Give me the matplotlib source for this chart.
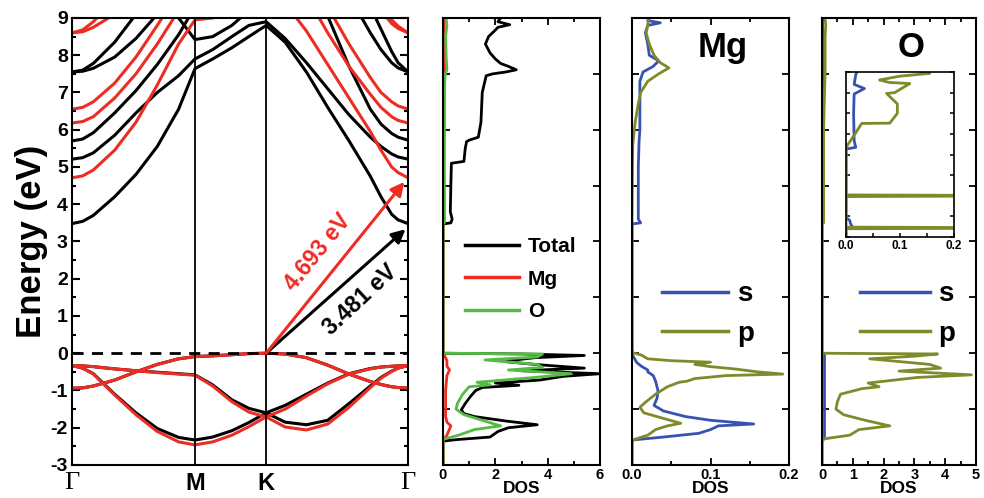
import numpy as np
import matplotlib
matplotlib.use('Agg')
import matplotlib.pyplot as plt
from matplotlib.lines import Line2D

plt.rcParams['font.family'] = ['Liberation Sans', 'DejaVu Sans']
plt.rcParams['font.weight'] = 'bold'
plt.rcParams['axes.linewidth'] = 1.5

RED = '#ee2c24'
GREEN = '#55bb44'
BLUE = '#3653b0'
OLIVE = '#7f8a2b'

# ---------------- band structure (Gamma - M - K - Gamma) ----------------
K_M, K_K, K_G = 0.577, 0.911, 1.577
KPTS = [0, 0.05, 0.1, 0.2, 0.3, 0.4, 0.5, 0.577, 0.66, 0.75, 0.83, 0.911,
        1.0, 1.1, 1.2, 1.3, 1.4, 1.45, 1.5, 1.53, 1.577]

# black bands (gap 3.481 eV)
vb_a = [-0.94, -0.93, -0.88, -0.72, -0.50, -0.30, -0.15, -0.09, -0.07, -0.04, -0.01, 0.0,
        -0.02, -0.12, -0.32, -0.56, -0.76, -0.84, -0.90, -0.92, -0.94]
vb_b = [-0.33, -0.34, -0.36, -0.42, -0.47, -0.51, -0.55, -0.58, -0.85, -1.25, -1.48, -1.60,
        -1.40, -1.10, -0.80, -0.55, -0.41, -0.37, -0.35, -0.34, -0.33]
vb_c = [-0.33, -0.40, -0.55, -1.10, -1.60, -2.02, -2.26, -2.33, -2.25, -2.08, -1.86, -1.60,
        -1.85, -1.92, -1.80, -1.35, -0.88, -0.65, -0.48, -0.40, -0.33]
cb_1 = [3.48, 3.54, 3.7, 4.2, 4.8, 5.55, 6.55, 7.64, 7.9, 8.2, 8.5, 8.8,
        8.35, 7.55, 6.6, 5.7, 4.75, 4.2, 3.73, 3.58, 3.48]
cb_2 = [5.21, 5.25, 5.38, 5.85, 6.45, 7.0, 7.45, 7.9, 8.15, 8.5, 8.8, 8.9,
        8.45, 7.8, 7.1, 6.4, 5.8, 5.55, 5.35, 5.27, 5.21]
cb_3 = [5.70, 5.75, 5.92, 6.45, 7.05, 7.75, 8.55, 9.3, 9.6, 10, 10, 10,
        10, 10, 9.05, 7.7, 6.55, 6.15, 5.9, 5.8, 5.72]
cb_4 = [7.55, 7.6, 7.78, 8.35, 9.1, 10, 10, 10, 10, 10, 10, 10,
        10, 10, 10, 9.6, 8.6, 8.15, 7.8, 7.66, 7.55]
cb_5 = [7.55, 7.57, 7.65, 7.95, 8.45, 9.1, 10, 10, 10, 10, 10, 10,
        10, 10, 10, 10, 9.3, 8.7, 8.1, 7.8, 7.55]
cb_6 = [10, 10, 10, 10, 10, 10, 9.0, 8.42, 8.5, 8.8, 9.2, 9.6,
        10, 10, 10, 10, 10, 10, 10, 10, 10]

# red bands (gap 4.693 eV)
vr_a = [-0.94, -0.93, -0.88, -0.72, -0.50, -0.30, -0.15, -0.09, -0.07, -0.04, -0.01, 0.0,
        -0.02, -0.12, -0.32, -0.56, -0.76, -0.84, -0.90, -0.92, -0.94]
vr_b = [-0.33, -0.34, -0.36, -0.42, -0.47, -0.52, -0.56, -0.59, -0.88, -1.30, -1.58, -1.71,
        -1.50, -1.15, -0.82, -0.56, -0.42, -0.37, -0.35, -0.34, -0.33]
vr_c = [-0.33, -0.40, -0.56, -1.12, -1.65, -2.10, -2.38, -2.46, -2.38, -2.20, -1.97, -1.71,
        -1.98, -2.06, -1.90, -1.45, -0.92, -0.67, -0.49, -0.40, -0.33]
cr_1 = [4.71, 4.76, 4.92, 5.45, 6.2, 7.2, 8.3, 8.95, 9.0, 9.2, 9.6, 10,
        9.4, 8.65, 7.75, 6.85, 5.95, 5.45, 5.0, 4.85, 4.71]
cr_2 = [6.18, 6.22, 6.35, 6.85, 7.5, 8.3, 9.2, 10, 10, 10, 10, 10,
        10, 9.6, 8.6, 7.7, 6.95, 6.6, 6.35, 6.25, 6.18]
cr_3 = [6.55, 6.6, 6.75, 7.25, 7.95, 8.8, 9.7, 10, 10, 10, 10, 10,
        10, 10, 9.3, 8.3, 7.4, 7.0, 6.75, 6.64, 6.55]
cr_4 = [8.6, 8.68, 8.9, 9.5, 10, 10, 10, 10, 10, 10, 10, 10,
        10, 10, 10, 10, 9.6, 9.2, 8.85, 8.72, 8.6]
cr_5 = [8.6, 8.63, 8.75, 9.1, 9.8, 10, 10, 10, 10, 10, 10, 10,
        10, 10, 10, 10, 10, 9.35, 8.95, 8.78, 8.6]

black_bands = [vb_a, vb_b, vb_c, cb_1, cb_2, cb_3, cb_4, cb_5, cb_6]
red_bands = [vr_a, vr_b, vr_c, cr_1, cr_2, cr_3, cr_4, cr_5]

# ---------------- DOS: total / Mg / O ----------------
TOT_E = [-3.0, -2.36, -2.32, -2.25, -2.1, -2.0, -1.92, -1.82, -1.7, -1.62, -1.52, -1.35,
         -1.16, -1.0, -0.92, -0.86, -0.8, -0.72, -0.62, -0.55, -0.47, -0.4, -0.3, -0.22,
         -0.12, -0.06, -0.02, 0.0, 3.47, 3.5, 3.6, 3.8, 4.5, 5.1, 5.15, 5.5, 5.68, 5.72,
         5.8, 6.2, 7.0, 7.45, 7.5, 7.55, 7.61, 7.7, 7.78, 7.9, 8.06, 8.3, 8.5, 8.64,
         8.75, 8.82, 8.9, 9.0]
TOT_D = [0, 0, 0.5, 1.8, 2.1, 2.5, 3.6, 2.4, 1.2, 0.8, 0.7, 0.85,
         1.05, 1.25, 1.5, 2.9, 2.0, 3.7, 4.6, 6.0, 3.0, 5.4, 3.5, 2.3,
         3.5, 5.4, 3.0, 0, 0, 0.3, 0.35, 0.28, 0.3, 0.32, 0.8, 0.85, 0.9, 1.0,
         1.35, 1.45, 1.5, 1.65, 1.9, 2.4, 2.8, 2.5, 2.2, 2.0, 1.8, 1.62, 1.74, 1.95,
         2.1, 2.55, 2.1, 2.2]
MG_E = [-3, -2.33, -2.3, -2.2, -1.95, -1.85, -1.7, -1.0, -0.6, -0.45, -0.35, -0.2, -0.05,
        0.0, 3.47, 3.5, 5.0, 7.0, 7.6, 8.0, 9.0]
MG_D = [0, 0, 0.05, 0.15, 0.3, 0.15, 0.1, 0.1, 0.15, 0.25, 0.15, 0.15, 0.05,
        0, 0, 0.05, 0.04, 0.05, 0.07, 0.05, 0.05]
O_E = [-3, -2.33, -2.3, -2.2, -2.05, -1.95, -1.8, -1.65, -1.5, -1.35, -1.1, -0.9, -0.85,
       -0.78, -0.65, -0.55, -0.45, -0.38, -0.3, -0.18, -0.1, -0.02, 0.0, 3.47, 3.5, 5.0,
       7.0, 7.5, 7.6, 8.0, 8.5, 8.8, 9.0]
O_D = [0, 0, 0.05, 0.6, 1.2, 2.2, 1.5, 0.8, 0.5, 0.55, 0.75, 1.0, 1.8,
       1.3, 3.5, 4.9, 2.5, 3.8, 3.6, 1.6, 3.6, 3.8, 0, 0, 0.04, 0.04,
       0.05, 0.08, 0.15, 0.12, 0.1, 0.15, 0.12]

# ---------------- Mg s / p ----------------
MGS_E = [-3, -2.33, -2.25, -2.15, -2.05, -1.95, -1.9, -1.8, -1.7, -1.55, -1.4, -1.2, -1.0,
         -0.75, -0.6, -0.5, -0.45, -0.35, -0.25, -0.1, -0.02, 3.47, 3.5, 3.6, 5.0, 5.7,
         6.0, 7.3, 7.55, 7.7, 7.85, 8.0, 8.3, 8.6, 8.8, 8.87, 8.93, 9.0]
MGS_D = [0, 0, 0.04, 0.085, 0.1, 0.11, 0.155, 0.1, 0.068, 0.04, 0.028, 0.032, 0.033,
         0.03, 0.027, 0.02, 0.02, 0.012, 0.006, 0.002, 0, 0, 0.011, 0.008, 0.008, 0.009,
         0.01, 0.01, 0.014, 0.027, 0.034, 0.022, 0.02, 0.017, 0.02, 0.036, 0.02, 0.022]
MGP_E = [-3, -2.35, -2.3, -2.2, -2.05, -1.95, -1.88, -1.75, -1.6, -1.45, -1.3, -1.1, -0.9,
         -0.78, -0.75, -0.68, -0.6, -0.56, -0.5, -0.42, -0.36, -0.3, -0.24, -0.2, -0.15,
         -0.05, 0.02, 3.5, 5.0, 5.6, 6.2, 6.7, 7.0, 7.3, 7.5, 7.66, 7.8, 8.0, 8.3, 8.6,
         8.8, 9.0]
MGP_D = [0, 0, 0.005, 0.02, 0.03, 0.045, 0.062, 0.04, 0.015, 0.01, 0.018, 0.03, 0.045,
         0.06, 0.07, 0.08, 0.12, 0.192, 0.16, 0.13, 0.1, 0.08, 0.1, 0.05, 0.02,
         0.012, 0, 0, 0.0005, 0.001, 0.004, 0.008, 0.011, 0.02, 0.034, 0.047, 0.036, 0.028,
         0.022, 0.018, 0.02, 0.021]

# ---------------- O s / p ----------------
OS_E = [-3, -2.33, -2.3, -1.5, -0.5, -0.02, 0.0, 3.47, 3.5, 9.0]
OS_D = [0, 0, 0.08, 0.08, 0.08, 0.08, 0, 0, 0.02, 0.02]
OP_E = [-3, -2.33, -2.3, -2.2, -2.05, -1.95, -1.8, -1.65, -1.5, -1.3, -1.1, -0.95, -0.9,
        -0.8, -0.65, -0.58, -0.48, -0.4, -0.3, -0.15, -0.08, -0.02, 0.0, 3.47, 3.5,
        6.0, 7.0, 7.5, 8.0, 8.5, 8.8, 9.0]
OP_D = [0, 0, 0.05, 0.9, 1.2, 2.2, 1.4, 0.7, 0.45, 0.5, 0.6, 1.3, 1.85,
        1.5, 3.1, 4.85, 2.5, 3.85, 3.5, 1.55, 3.0, 3.75, 0, 0, 0.05,
        0.05, 0.08, 0.1, 0.1, 0.1, 0.12, 0.1]

# inset (O, conduction band, zoomed DOS)
INS_PE = [3.0, 3.3, 3.32, 3.34, 3.36, 4.47, 4.49, 4.51, 4.53, 6.26, 6.7, 7.13, 7.14,
          7.5, 7.84, 8.22, 8.25, 8.58, 8.62, 8.71, 8.85, 8.95, 9.0]
INS_PD = [0, 0, 0.3, 0.3, 0, 0, 0.3, 0.3, 0, 0, 0.015, 0.029, 0.081,
          0.095, 0.095, 0.075, 0.09, 0.118, 0.08, 0.062, 0.1, 0.155, 0.14]
INS_SE = [3.0, 3.3, 3.35, 3.5, 3.6, 3.7, 6.2, 6.26, 6.5, 7.5, 8.2, 8.4, 8.55, 8.9, 9.0]
INS_SD = [0, 0, 0.012, 0.008, 0.007, 0.0, 0.0, 0.018, 0.015, 0.014, 0.015, 0.034,
          0.015, 0.018, 0.02]


def style_dos(ax, xmax, major, minor, labels):
    ax.set_xlim(0, xmax)
    ax.set_ylim(-3, 9)
    ax.set_xticks(major)
    ax.set_xticks(minor, minor=True)
    ax.set_xticklabels(labels, fontsize=10.5, fontweight='bold')
    ax.set_yticks(np.arange(-3, 9.01, 1.5))
    ax.set_yticklabels([])
    ax.tick_params(axis='both', which='both', direction='in', top=True, right=True,
                   width=1.3)
    ax.tick_params(axis='both', which='major', length=5, pad=2)
    ax.tick_params(axis='both', which='minor', length=3)
    ax.set_xlabel('DOS', fontsize=12.5, fontweight='bold', labelpad=-0.5)


fig = plt.figure(figsize=(9.84, 4.98), dpi=100)

# ---- band panel ----
ax = fig.add_axes([0.0732, 0.0663, 0.3415, 0.8976])
for b in black_bands:
    ax.plot(KPTS, b, color='black', lw=2.2)
for b in red_bands:
    ax.plot(KPTS, b, color=RED, lw=2.2)
ax.axvline(K_M, color='black', lw=1.3)
ax.axvline(K_K, color='black', lw=1.3)
ax.axhline(0, color='black', lw=2, ls=(0, (4, 3)))
ax.set_xlim(0, K_G)
ax.set_ylim(-3, 9)
ax.set_yticks(range(-3, 10))
ax.set_yticks(np.arange(-2.5, 9, 1), minor=True)
ax.set_yticklabels([str(v) for v in range(-3, 10)], fontsize=14, fontweight='bold')
ax.tick_params(axis='y', which='both', direction='in', left=True, right=True, width=1.5)
ax.tick_params(axis='y', which='major', length=6, pad=3)
ax.tick_params(axis='y', which='minor', length=3)
ax.set_xticks([0, K_M, K_K, K_G])
ax.set_xticklabels(['Γ', 'M', 'K', 'Γ'], fontsize=17, fontweight='bold')
ax.tick_params(axis='x', length=0, pad=5)
for i, t in enumerate(ax.get_xticklabels()):
    if i in (0, 3):
        t.set_fontfamily(['Liberation Serif', 'DejaVu Serif'])
        t.set_fontweight('normal')
        t.set_fontsize(19)
ax.set_ylabel('Energy (eV)', fontsize=25, fontweight='bold', labelpad=2)

ax.annotate('', xy=(1.565, 3.33), xytext=(K_K, 0.0),
            arrowprops=dict(arrowstyle='-|>', color='black', lw=2.2, mutation_scale=20,
                            shrinkA=0, shrinkB=0))
ax.annotate('', xy=(1.56, 4.6), xytext=(K_K, 0.0),
            arrowprops=dict(arrowstyle='-|>', color=RED, lw=2.2, mutation_scale=20,
                            shrinkA=0, shrinkB=0))
ax.text(1.155, 2.70, '4.693 eV', color=RED, fontsize=16.5, fontweight='bold',
        rotation=51, ha='center', va='center', rotation_mode='anchor')
ax.text(1.35, 1.44, '3.481 eV', color='black', fontsize=16.5, fontweight='bold',
        rotation=43, ha='center', va='center', rotation_mode='anchor')

# ---- total DOS ----
ax1 = fig.add_axes([0.4502, 0.0663, 0.1596, 0.8976])
ax1.plot(TOT_D, TOT_E, color='black', lw=2)
ax1.plot(MG_D, MG_E, color=RED, lw=2)
ax1.plot(O_D, O_E, color=GREEN, lw=2)
style_dos(ax1, 6, [0, 2, 4, 6], [1, 3, 5], ['0', '2', '4', '6'])
h1 = [Line2D([], [], color=c, lw=2.5) for c in ('black', RED, GREEN)]
ax1.legend(h1, ['Total', 'Mg', 'O'], loc='center left', bbox_to_anchor=(0.02, 0.416),
           frameon=False, handlelength=2.6, handletextpad=0.43,
           labelspacing=0.64, prop={'weight': 'bold', 'size': 15})

# ---- Mg s/p ----
ax2 = fig.add_axes([0.6423, 0.0663, 0.1596, 0.8976])
ax2.plot(MGS_D, MGS_E, color=BLUE, lw=2)
ax2.plot(MGP_D, MGP_E, color=OLIVE, lw=2)
style_dos(ax2, 0.2, [0, 0.1, 0.2], [0.05, 0.15], ['0.0', '0.1', '0.2'])
ax2.text(0.74, 0.935, 'Mg', transform=ax2.transAxes, fontsize=25, fontweight='bold',
         ha='right', va='center')
h2 = [Line2D([], [], color=c, lw=2.5) for c in (BLUE, OLIVE)]
ax2.legend(h2, ['s', 'p'], loc='center left', bbox_to_anchor=(0.03, 0.338),
           frameon=False, handlelength=2.4, handletextpad=0.3, labelspacing=0.48,
           prop={'weight': 'bold', 'size': 20})

# ---- O s/p ----
ax3 = fig.add_axes([0.8354, 0.0663, 0.1565, 0.8976])
ax3.plot(OS_D, OS_E, color=BLUE, lw=2)
ax3.plot(OP_D, OP_E, color=OLIVE, lw=2)
style_dos(ax3, 5, [0, 1, 2, 3, 4, 5], [0.5, 1.5, 2.5, 3.5, 4.5],
          ['0', '1', '2', '3', '4', '5'])
ax3.text(0.58, 0.935, 'O', transform=ax3.transAxes, fontsize=25, fontweight='bold',
         ha='center', va='center')
ax3.legend(h2, ['s', 'p'], loc='center left', bbox_to_anchor=(0.085, 0.338),
           frameon=False, handlelength=2.5, handletextpad=0.3, labelspacing=0.48,
           prop={'weight': 'bold', 'size': 20})

# ---- inset ----
axi = fig.add_axes([0.8598, 0.5241, 0.1098, 0.3313])
axi.plot(INS_SD, INS_SE, color=BLUE, lw=2)
axi.plot(INS_PD, INS_PE, color=OLIVE, lw=2)
axi.set_xlim(0, 0.2)
axi.set_ylim(3, 9)
axi.set_xticks([0, 0.1, 0.2])
axi.set_xticks([0.05, 0.15], minor=True)
axi.set_xticklabels(['0.0', '0.1', '0.2'], fontsize=8.5, fontweight='bold')
axi.set_yticks(np.arange(3, 9.01, 0.75))
axi.set_yticklabels([])
axi.tick_params(axis='both', which='both', direction='in', right=True, width=1.1,
                length=3, pad=2)
for s in axi.spines.values():
    s.set_linewidth(1.2)

fig.savefig('out.png', dpi=100)
